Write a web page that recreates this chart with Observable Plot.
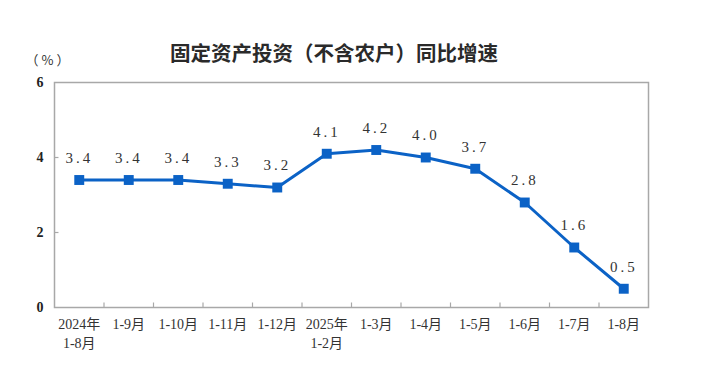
<!DOCTYPE html>
<html><head><meta charset="utf-8">
<script src="https://cdn.jsdelivr.net/npm/d3@7"></script>
<script src="https://cdn.jsdelivr.net/npm/@observablehq/plot@0.6"></script>
<style>
body{margin:0;background:#fff;}
#wrap{position:relative;width:723px;height:389px;overflow:hidden;}
#title{position:absolute;left:0;top:40px;width:668px;text-align:center;font:bold 20.5px "Noto Sans CJK SC",sans-serif;line-height:24px;color:#2a2a2a;}
</style></head>
<body><div id="wrap"><div id="title">固定资产投资（不含农户）同比增速</div><div id="chart"></div></div>
<script>
const categories = ["2024年\n1-8月","1-9月","1-10月","1-11月","1-12月","2025年\n1-2月","1-3月","1-4月","1-5月","1-6月","1-7月","1-8月"];
const values = [3.4,3.4,3.4,3.3,3.2,4.1,4.2,4.0,3.7,2.8,1.6,0.5];
const yTicks = [0,2,4,6];

const data = categories.map((c,i)=>({i, c, v: values[i]}));
const bounds = d3.range(1, categories.length);
const serif = '"Liberation Serif","Noto Sans CJK SC",serif';

const chart = Plot.plot({
  width: 723, height: 389,
  marginTop: 82, marginBottom: 82, marginLeft: 54, marginRight: 75,
  style: {fontFamily: serif, background: "#fff"},
  x: {type: "linear", domain: [-0.5, categories.length - 0.5]},
  y: {domain: [0, 6]},
  marks: [
    Plot.frame({stroke: "#a8a8a8", strokeWidth: 1.5}),
    Plot.ruleX(bounds.map(b => b - 0.5), {y1: 0, y2: 0.12, stroke: "#a8a8a8", strokeWidth: 1.2}),
    Plot.ruleY([2, 4], {x1: -0.5, x2: -0.41, stroke: "#a8a8a8", strokeWidth: 1.2}),
    Plot.axisY({ticks: yTicks, tickSize: 0, tickPadding: 11, fontSize: 14, fontWeight: "bold", fill: "#222", label: null, tickFormat: d => d}),
    Plot.axisX({ticks: d3.range(categories.length), tickSize: 0, tickPadding: 9, fontSize: 14, lineHeight: 1.3, fill: "#333", label: null, tickFormat: i => categories[i], textAnchor: "middle"}),
    Plot.text(["（%）"], {frameAnchor: "top-left", dx: -29, dy: -27, fontSize: 13, fill: "#333", fontFamily: '"Noto Sans CJK SC",sans-serif', textAnchor: "start"}),
    Plot.line(data, {x: "i", y: "v", stroke: "#0b62c6", strokeWidth: 3}),
    Plot.dot(data, {x: "i", y: "v", symbol: "square", r: 5.6, fill: "#0b62c6", stroke: null}),
    Plot.text(data, {x: "i", y: "v", text: d => d.v.toFixed(1), dy: -22, fontSize: 15, fill: "#333", fontFamily: serif})
  ]
});
chart.querySelectorAll('g[aria-label="text"] text').forEach(t => t.style.letterSpacing = "3px");
document.getElementById("chart").appendChild(chart);
</script></body></html>
